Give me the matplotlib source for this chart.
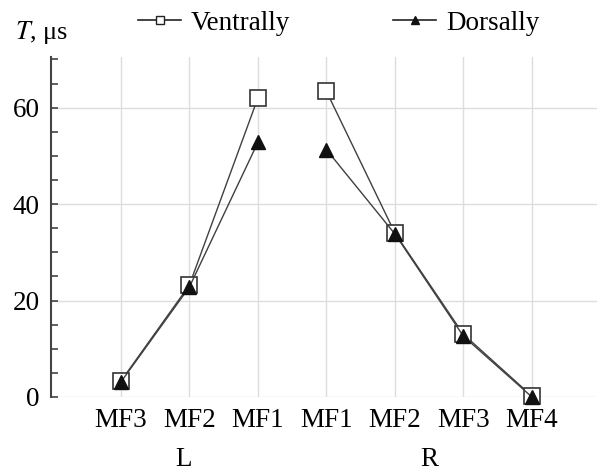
import matplotlib.pyplot as plt
import numpy as np
from matplotlib.ticker import MultipleLocator

plt.rcParams['font.family'] = ['Liberation Serif', 'DejaVu Serif']

# data
labels = ['MF3', 'MF2', 'MF1', 'MF1', 'MF2', 'MF3', 'MF4']
sides = ['L', 'R']
ventral_L = [3.3, 23.2, 62.0]
ventral_R = [63.4, 34.0, 13.0, 0.2]
dorsal_L = [3.1, 22.8, 52.8]
dorsal_R = [51.3, 33.8, 12.6, 0.0]

xL = np.arange(len(ventral_L))
xR = np.arange(len(ventral_R)) + len(ventral_L)

fig = plt.figure(figsize=(5.97, 4.71), dpi=100)
ax = fig.add_axes([51/597, 1 - 397/471, 1 - 51/597, (397 - 57)/471])

line_c = '#404040'
vkw = dict(color=line_c, lw=1.0, marker='s', ms=12, mfc='white', mec='#333333', mew=1.2, clip_on=False, zorder=3)
dkw = dict(color=line_c, lw=1.0, marker='^', ms=10, mfc='#111111', mec='#111111', clip_on=False, zorder=4)

ax.plot(xL, ventral_L, **vkw)
ax.plot(xR, ventral_R, **vkw)
ax.plot(xL, dorsal_L, **dkw)
ax.plot(xR, dorsal_R, **dkw)

ax.set_xlim(-1.02, 6.95)
ax.set_ylim(0, 70.5)
ax.set_xticks(np.arange(len(labels)))
ax.set_xticklabels(labels, fontsize=19.5)
ax.tick_params(axis='x', length=0, pad=8)
ax.yaxis.set_major_locator(MultipleLocator(20))
ax.yaxis.set_minor_locator(MultipleLocator(5))
ax.tick_params(axis='y', which='both', direction='in', length=5, width=1.2, color='#444444', labelsize=19.5, pad=8)

ax.grid(True, color='#dddddd', lw=1.0)
ax.set_axisbelow(True)
for s in ['top', 'right', 'bottom']:
    ax.spines[s].set_visible(False)
ax.spines['left'].set_color('#444444')
ax.spines['left'].set_linewidth(1.5)

# group labels
for xpos, s in zip([0.92, 4.5], sides):
    ax.annotate(s, xy=(xpos, 0), xycoords=('data', 'axes fraction'), xytext=(0, -45),
                textcoords='offset points', ha='center', va='center', fontsize=19.5)

# axis title
fig.text(15/597, 1 - 32/471, r'$T$, μs', fontsize=19, va='center', ha='left',
         math_fontfamily='stix')

# legend
h1, = ax.plot([], [], color='#222222', lw=1.2, marker='s', ms=6, mfc='white', mec='#222222')
h2, = ax.plot([], [], color='#222222', lw=1.2, marker='^', ms=6, mfc='#111111', mec='#111111')
fig.legend([h1, h2], ['Ventrally', 'Dorsally'], loc='center left', bbox_to_anchor=(138/597, 1 - 23/471),
           ncol=2, frameon=False, fontsize=19.5, handlelength=1.6, handletextpad=0.35, columnspacing=3.8,
           borderaxespad=0, borderpad=0)

fig.savefig('out.png', dpi=100)
